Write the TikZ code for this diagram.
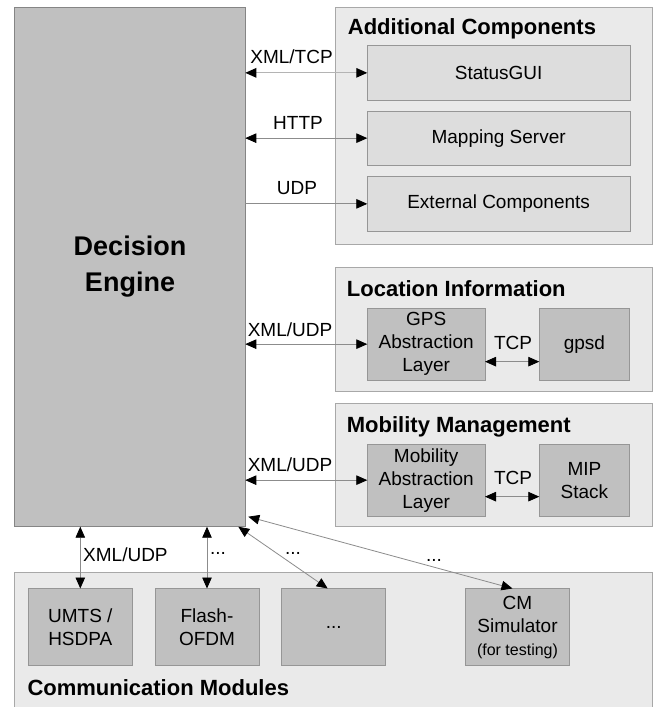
\documentclass[tikz,border=0pt]{standalone}
\usepackage{fontspec}
\setmainfont{Liberation Sans}
\usetikzlibrary{arrows.meta,calc}
\definecolor{deFill}{HTML}{C0C0C0}
\definecolor{deLine}{HTML}{858585}
\definecolor{grpFill}{HTML}{EAEAEA}
\definecolor{grpLine}{HTML}{A8A8A8}
\definecolor{lightBox}{HTML}{DDDDDD}
\definecolor{boxLine}{HTML}{969696}
\definecolor{arrowLine}{HTML}{8C8C8C}
\definecolor{arrowLight}{HTML}{B4B4B4}
\tikzset{
  base/.style={rectangle, inner sep=0pt, outer sep=0pt, anchor=north west, line width=1pt, align=center, font=\fontsize{19}{23}\selectfont},
  debox/.style={base, fill=deFill, draw=deLine},
  grpbox/.style={base, fill=grpFill, draw=grpLine},
  litebox/.style={base, fill=lightBox, draw=boxLine},
  darkbox/.style={base, fill=deFill, draw=boxLine},
  grptitle/.style={anchor=base west, inner sep=0pt, font=\fontsize{22}{26}\selectfont\bfseries},
  lbl/.style={inner sep=0pt, font=\fontsize{19}{23}\selectfont},
  conn/.style={draw=arrowLine, line width=0.8pt},
  both/.style={conn, {Triangle[length=11pt,width=9.5pt,color=black]}-{Triangle[length=11pt,width=9.5pt,color=black]}},
  fwd/.style={conn, -{Triangle[length=11pt,width=9.5pt,color=black]}},
}
\begin{document}
\begin{tikzpicture}[x=1pt,y=-1pt]
\useasboundingbox (0,0) rectangle (660,707);
\fill[white] (0,0) rectangle (660,707);
% Decision engine
\node[debox, minimum width=230.6pt, minimum height=519.4pt, font=\fontsize{27}{36}\selectfont\bfseries] (de) at (14.7,7.3) {Decision\\Engine};
% Additional components
\node[grpbox, minimum width=317.4pt, minimum height=237pt] (addbox) at (335.3,7.3) {};
\node[grptitle] (addtitle) at (347.7,34.3) {Additional Components};
\node[litebox, minimum width=262.7pt, minimum height=54.3pt] (status) at (367.3,45.7) {StatusGUI};
\node[litebox, minimum width=262.7pt, minimum height=54.3pt] (mapping) at (367.3,111) {Mapping Server};
\node[litebox, minimum width=262.7pt, minimum height=54.3pt] (external) at (367.3,176.7) {External Components};
% Location information
\node[grpbox, minimum width=317.4pt, minimum height=123.7pt] (locbox) at (335.3,267.3) {};
\node[grptitle] (loctitle) at (346.7,296.5) {Location Information};
\node[darkbox, minimum width=117.7pt, minimum height=71.7pt] (gps) at (367.3,308.3) {GPS\\Abstraction\\Layer};
\node[darkbox, minimum width=90.3pt, minimum height=71.7pt] (gpsd) at (539.3,308.3) {gpsd};
% Mobility management
\node[grpbox, minimum width=317.4pt, minimum height=123.2pt] (mobbox) at (335.3,403.5) {};
\node[grptitle] (mobtitle) at (346.7,432) {Mobility Management};
\node[darkbox, minimum width=117.7pt, minimum height=71.7pt] (mal) at (367.3,444.3) {Mobility\\Abstraction\\Layer};
\node[darkbox, minimum width=90.3pt, minimum height=71.7pt] (mip) at (539.3,444.3) {MIP\\Stack};
% Communication modules
\node[grpbox, minimum width=638pt, minimum height=135pt] (commbox) at (14.7,572.7) {};
\node[grptitle] (commtitle) at (27.3,695) {Communication Modules};
\node[darkbox, minimum width=104pt, minimum height=77.2pt] (umts) at (28.3,588.5) {UMTS /\\HSDPA};
\node[darkbox, minimum width=104pt, minimum height=77.2pt] (flash) at (155,588.5) {Flash-\\OFDM};
\node[darkbox, minimum width=104pt, minimum height=77.2pt] (dotsbox) at (281.7,588.5) {...};
\node[darkbox, minimum width=104pt, minimum height=77.2pt] (cm) at (465.5,588.5) {CM\\Simulator\\\fontsize{16}{20}\selectfont(for testing)};
% connectors to the right
\draw[both, draw=arrowLight, line width=1.2pt] (status.west -| de.east) -- (status.west);
\draw[both] (mapping.west -| de.east) -- (mapping.west);
\draw[fwd] (external.west -| de.east) -- (external.west);
\draw[both] (gps.west -| de.east) -- (gps.west);
\draw[both] (mal.west -| de.east) -- (mal.west);
\draw[both] ($(gps.east)+(0,17.5)$) -- ($(gpsd.west)+(0,17.5)$);
\draw[both] ($(mal.east)+(0,16.5)$) -- ($(mip.west)+(0,16.5)$);
% connectors below
\draw[both] (umts.north |- de.south) -- (umts.north);
\draw[both] (flash.north |- de.south) -- (flash.north);
\coordinate (d1s) at ($(de.south east)+(-7,0)$);
\coordinate (d1e) at ($(dotsbox.north)+(-6,0)$);
\draw[both] (d1s) -- (d1e);
\coordinate (d2s) at ($(de.south east)+(3,-10)$);
\coordinate (d2e) at ($(cm.north)+(-5,0)$);
\draw[both] (d2s) -- (d2e);
% labels
\node[lbl] (l1) at (291.5,57) {XML/TCP};
\node[lbl] (l2) at (298,123) {HTTP};
\node[lbl] (l3) at (297,188) {UDP};
\node[lbl] (l4) at (290,330) {XML/UDP};
\node[lbl] (l5) at (290,465) {XML/UDP};
\node[lbl] (l6) at (513,343) {TCP};
\node[lbl] (l7) at (513,478) {TCP};
\node[lbl, anchor=west] (l8) at (83,555) {XML/UDP};
\node[lbl] (l9) at (218,553) {...};
\node[lbl] (l10) at (293,553) {...};
\node[lbl] (l11) at (434,560) {...};
\end{tikzpicture}
\end{document}
